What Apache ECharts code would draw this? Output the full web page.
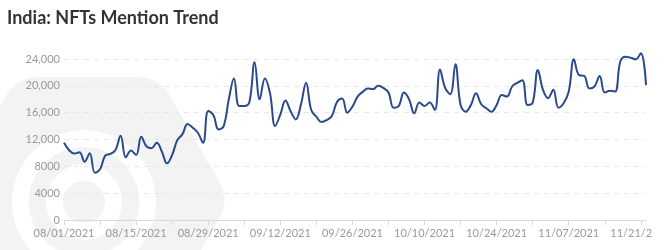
<!DOCTYPE html>
<html>
<head>
<meta charset="utf-8">
<script src="https://cdn.jsdelivr.net/npm/echarts@6/dist/echarts.min.js"></script>
<style>
html,body{margin:0;padding:0;background:#fff;}
#chart{width:652px;height:250px;}
</style>
</head>
<body>
<div id="chart"></div>
<script>
const titleText = 'India: NFTs Mention Trend';
const startDate = [2021, 8, 1];
const mentions = [
  11500, 10400, 9900, 10100, 8700, 9950, 7050, 7550, 9600, 9850,
  10450, 12550, 9350, 10350, 9700, 12400, 11000, 10700, 11500, 10200,
  8450, 9700, 11900, 12800, 14300, 13750, 13000, 11500, 16250, 15650,
  13500, 14000, 18000, 21100, 17000, 17000, 17600, 23500, 18000, 21100,
  18900, 14000, 15700, 17800, 16200, 15000, 17200, 20450, 16400, 15400,
  14600, 14900, 15500, 17600, 18100, 16000, 16900, 18400, 19100, 19600,
  19500, 20000, 19700, 19000, 16750, 17000, 19000, 18000, 15900, 17500,
  17000, 17500, 16400, 22450, 19700, 18750, 23200, 17150, 16150, 17150,
  18900, 17250, 16650, 16150, 17150, 18650, 18400, 19900, 20450, 20850,
  17150, 17500, 22350, 19400, 18150, 19400, 16750, 17400, 19150, 23950,
  21600, 21500, 19600, 19900, 21450, 19000, 19250, 19150, 23600, 24350,
  24200, 23950, 24850, 20100
];
const yTickLabels = ['0', '4000', '8000', '12,000', '16,000', '20,000', '24,000'];

function pad(n){ return (n < 10 ? '0' : '') + n; }
const dates = [];
for (let i = 0; i < mentions.length; i++) {
  const d = new Date(startDate[0], startDate[1] - 1, startDate[2] + i);
  dates.push(pad(d.getMonth() + 1) + '/' + pad(d.getDate()) + '/' + d.getFullYear());
}

// watermark: rounded hexagon sampled as polygon points
function roundedPolyPoints(pts, r) {
  const out = [];
  const n = pts.length;
  for (let i = 0; i < n; i++) {
    const p = pts[i], pr = pts[(i - 1 + n) % n], nx = pts[(i + 1) % n];
    const l1 = Math.hypot(pr[0] - p[0], pr[1] - p[1]);
    const l2 = Math.hypot(nx[0] - p[0], nx[1] - p[1]);
    const a = [p[0] + (pr[0] - p[0]) * r / l1, p[1] + (pr[1] - p[1]) * r / l1];
    const b = [p[0] + (nx[0] - p[0]) * r / l2, p[1] + (nx[1] - p[1]) * r / l2];
    for (let s = 0; s <= 8; s++) {
      const t = s / 8;
      out.push([
        (1 - t) * (1 - t) * a[0] + 2 * (1 - t) * t * p[0] + t * t * b[0],
        (1 - t) * (1 - t) * a[1] + 2 * (1 - t) * t * p[1] + t * t * b[1]
      ]);
    }
  }
  return out;
}
const hx = 88, hy = 200, hr = 142;
const hexPts = [];
for (let k = 0; k < 6; k++) {
  const ang = Math.PI / 3 * k;
  hexPts.push([hx + hr * Math.cos(ang), hy + hr * Math.sin(ang)]);
}
const wm = '#f3f3f3';
const axisFont = "'Liberation Sans Narrow', 'Lato', sans-serif";

const chart = echarts.init(document.getElementById('chart'), null, {renderer: 'canvas'});
chart.setOption({
  backgroundColor: '#ffffff',
  animation: false,
  title: {
    text: titleText,
    left: 2,
    top: 4,
    textStyle: {fontFamily: 'Lato', fontWeight: 'bold', fontSize: 18, color: '#333333'}
  },
  graphic: [
    {type: 'polygon', z: -100, silent: true, shape: {points: roundedPolyPoints(hexPts, 22)}, style: {fill: wm}},
    {type: 'ring', z: -99, silent: true, shape: {cx: 84, cy: 202, r: 38, r0: 21}, style: {fill: '#ffffff'}},
    {type: 'ring', z: -99, silent: true, shape: {cx: 84, cy: 202, r: 72, r0: 55}, style: {fill: '#ffffff'}}
  ],
  grid: {left: 64, right: 6, top: 59, bottom: 30, containLabel: false, outerBoundsMode: 'none'},
  xAxis: {
    type: 'category',
    data: dates,
    boundaryGap: false,
    axisLine: {lineStyle: {color: '#d9d9d9'}},
    axisTick: {show: true, interval: 6, length: 5, lineStyle: {color: '#d9d9d9'}},
    axisLabel: {interval: 13, color: '#999999', fontFamily: axisFont, fontSize: 11, margin: 8},
    splitLine: {show: false}
  },
  yAxis: {
    type: 'value',
    min: 0,
    max: 24000,
    interval: 4000,
    axisLine: {show: false},
    axisTick: {show: false},
    axisLabel: {
      color: '#999999', fontFamily: axisFont, fontSize: 11, margin: 4,
      formatter: function (v, i) { return yTickLabels[i]; }
    },
    splitLine: {lineStyle: {color: '#e6e6e6', type: [5, 5]}}
  },
  series: [{
    type: 'line',
    data: mentions,
    smooth: 0.4,
    clip: false,
    symbol: 'none',
    lineStyle: {color: '#2a4a8b', width: 2}
  }]
});
</script>
</body>
</html>
